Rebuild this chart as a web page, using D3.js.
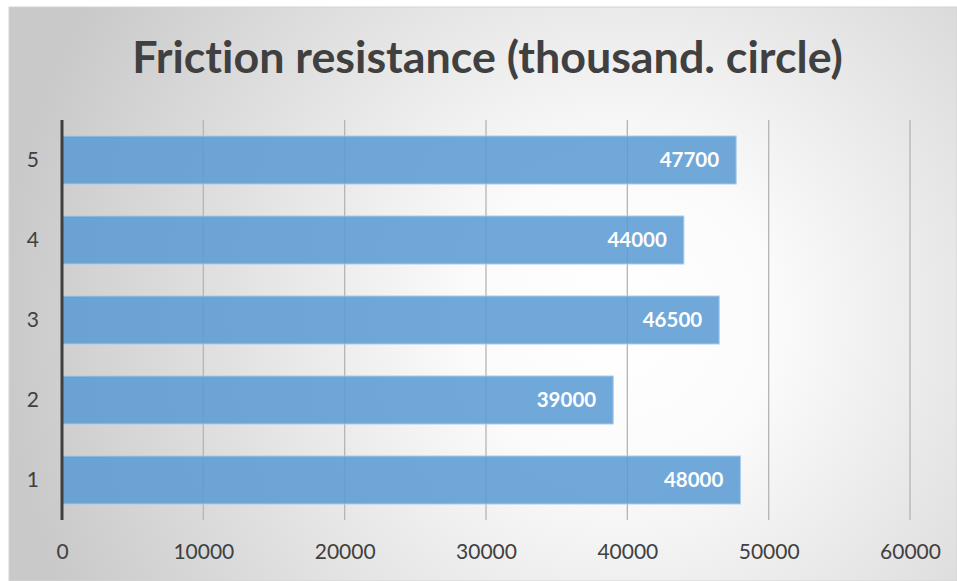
<!DOCTYPE html>
<html>
<head>
<meta charset="utf-8">
<script src="https://cdn.jsdelivr.net/npm/d3@7"></script>
<style>
  html, body { margin: 0; padding: 0; background: #ffffff; }
  svg { display: block; }
  text { font-variant-ligatures: none; font-feature-settings: "liga" 0; }
</style>
</head>
<body>
<svg id="chart" width="957" height="581"></svg>
<script>
// Friction resistance per sample, horizontal bar chart
const categories = ["1", "2", "3", "4", "5"];
const values = [48000, 39000, 46500, 44000, 47700];
const xTicks = [0, 10000, 20000, 30000, 40000, 50000, 60000];
const titleText = "Friction resistance (thousand. circle)";

const svg = d3.select("#chart");
const W = 957, H = 581;
const frame = { x: 9, y: 7, w: W - 9, h: 574 };
const plot = { left: 62, right: 910, top: 120, bottom: 520 };

// Background: soft radial light spot, gray toward the edges
const defs = svg.append("defs");
const grad = defs.append("radialGradient")
  .attr("id", "bg")
  .attr("gradientUnits", "userSpaceOnUse")
  .attr("cx", 620).attr("cy", 320).attr("r", 620);
grad.append("stop").attr("offset", 0).attr("stop-color", "#ffffff");
grad.append("stop").attr("offset", 0.25).attr("stop-color", "#fbfbfb");
grad.append("stop").attr("offset", 1).attr("stop-color", "#c9c9c9");

svg.append("rect")
  .attr("x", frame.x).attr("y", frame.y)
  .attr("width", frame.w).attr("height", frame.h)
  .attr("fill", "url(#bg)")
  .attr("stroke", "#d4d4d4").attr("stroke-width", 1);

const x = d3.scaleLinear().domain([0, 60000]).range([plot.left, plot.right]);
const y = d3.scaleBand()
  .domain(categories.slice().reverse())
  .range([plot.top, plot.bottom])
  .paddingInner(0.4).paddingOuter(0.2);

// Vertical gridlines
svg.append("g").selectAll("line")
  .data(xTicks.slice(1))
  .join("line")
  .attr("x1", d => x(d)).attr("x2", d => x(d))
  .attr("y1", plot.top).attr("y2", plot.bottom)
  .attr("stroke", "#b4b4b4").attr("stroke-width", 1.3);

// Bars
svg.append("g").selectAll("rect")
  .data(categories.map((c, i) => ({ c, v: values[i] })))
  .join("rect")
  .attr("x", x(0))
  .attr("y", d => y(d.c))
  .attr("width", d => x(d.v) - x(0))
  .attr("height", y.bandwidth())
  .attr("fill", "#5b9bd5")
  .attr("fill-opacity", 0.87)
  .attr("stroke", "#a9cbeb")
  .attr("stroke-width", 1);

// Value labels inside the bar ends
svg.append("g").selectAll("text")
  .data(categories.map((c, i) => ({ c, v: values[i] })))
  .join("text")
  .attr("x", d => x(d.v) - 17)
  .attr("y", d => y(d.c) + y.bandwidth() / 2)
  .attr("dy", "0.36em")
  .attr("text-anchor", "end")
  .attr("font-family", "Lato, 'Open Sans', sans-serif")
  .attr("font-weight", "bold")
  .attr("font-size", 20.5)
  .attr("fill", "#ffffff")
  .text(d => d.v);

// Category axis (left)
svg.append("line")
  .attr("x1", plot.left).attr("x2", plot.left)
  .attr("y1", plot.top).attr("y2", plot.bottom)
  .attr("stroke", "#404040").attr("stroke-width", 3);

const yAxis = svg.append("g")
  .attr("transform", `translate(${plot.left},0)`)
  .call(d3.axisLeft(y).tickSize(0).tickPadding(23));
yAxis.select(".domain").remove();
yAxis.selectAll("text")
  .attr("font-family", "Lato, sans-serif")
  .attr("font-size", 21)
  .attr("fill", "#404040");

// Value axis (bottom)
const xAxis = svg.append("g")
  .attr("transform", `translate(0,${plot.bottom})`)
  .call(d3.axisBottom(x).tickValues(xTicks).tickFormat(d3.format("d")).tickSize(0).tickPadding(24));
xAxis.select(".domain").remove();
xAxis.selectAll("text")
  .attr("font-family", "Lato, sans-serif")
  .attr("font-size", 21)
  .attr("fill", "#404040");

// Title, fitted to its width
const title = svg.append("text")
  .attr("x", 487.5).attr("y", 73)
  .attr("text-anchor", "middle")
  .attr("font-family", "Lato, 'Open Sans', sans-serif")
  .attr("font-weight", "bold")
  .attr("font-size", 42)
  .attr("fill", "#404040")
  .text(titleText);
const tw = title.node().getComputedTextLength();
title.attr("font-size", 42 * 711 / tw);
</script>
</body>
</html>
